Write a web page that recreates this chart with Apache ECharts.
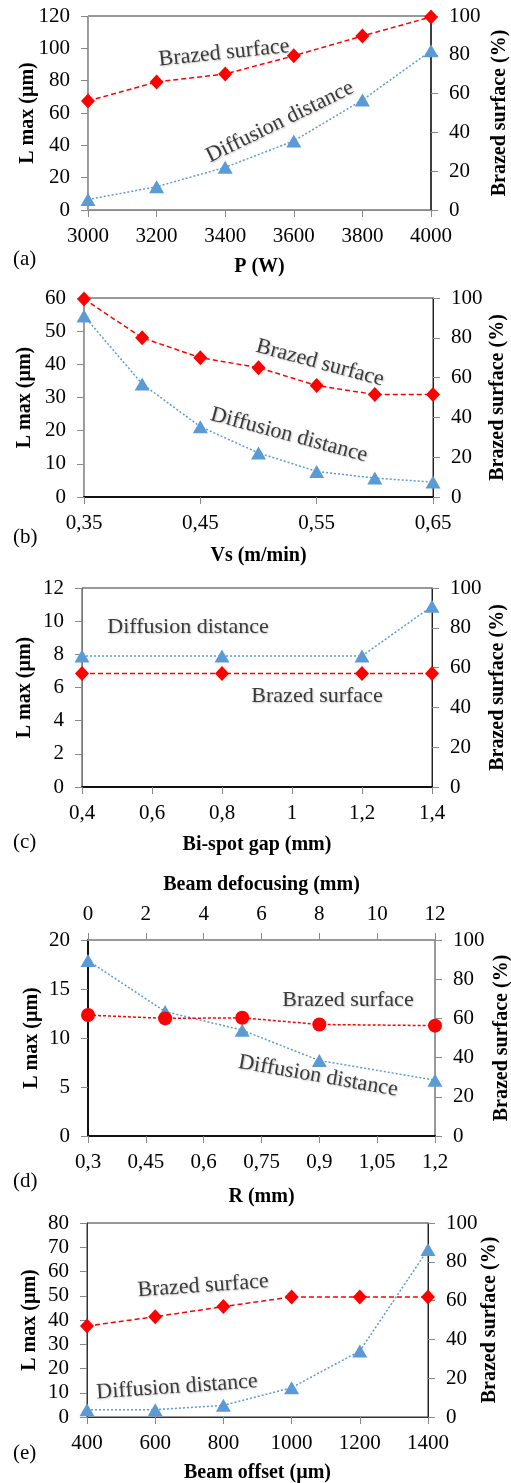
<!DOCTYPE html>
<html><head><meta charset="utf-8">
<script src="https://cdn.jsdelivr.net/npm/echarts@6/dist/echarts.min.js"></script>
<style>html,body{margin:0;padding:0;background:#fff}#c{width:511px;height:1483px}</style>
</head><body><div id="c"></div>
<script>
// ---- data ----
const aPower = [3000, 3200, 3400, 3600, 3800, 4000];
const aDiffusion = [6.5, 14.4, 26.4, 42.7, 68, 98.5];
const aBrazed = [56.2, 66, 70.1, 79.5, 89.7, 99.5];

const bSpeed = [0.35, 0.40, 0.45, 0.50, 0.55, 0.60, 0.65];
const bDiffusion = [54.6, 34.1, 21.2, 13.3, 7.7, 5.7, 4.5];
const bBrazed = [99.5, 80, 70, 65, 56, 51.5, 51.5];
const bSpeedTicks = [0.35, 0.45, 0.55, 0.65];

const cGap = [0.4, 0.8, 1.2, 1.4];
const cDiffusion = [7.9, 7.9, 7.9, 10.9];
const cBrazed = [57, 57, 57, 57];

const dRadius = [0.3, 0.5, 0.7, 0.9, 1.2];
const dDiffusion = [17.9, 12.7, 10.8, 7.7, 5.7];
const dBrazed = [61.7, 60, 60.3, 56.9, 56.3];

const eOffset = [400, 600, 800, 1000, 1200, 1400];
const eDiffusion = [3.0, 3.0, 4.8, 12.1, 27.2, 69.1];
const eBrazed = [46.9, 51.7, 56.9, 61.9, 61.9, 61.9];

// ---- rendering ----
const FONT = '"Liberation Serif", "Times New Roman", serif';
const RED = '#ff0000', BLUE = '#5b9bd5';
const comma = v => String(+(+v).toFixed(2)).replace('.', ',');

const panels = [
  {grid:{left:88, top:16, width:343, height:194},
   x:{min:3000, max:4000, interval:200, name:'P (W)', gap:47, fmt:null},
   yl:{max:120, interval:20, gap:50}, yr:{gap:59},
   lines:{left:'#a0a0a0', bottom:'#888', lw:1, bw:1},
   xs:aPower, diff:aDiffusion, braz:aBrazed, bsym:'diamond', tag:'(a)', tagY:260},
  {grid:{left:84, top:298, width:349, height:199},
   x:{min:0.35, max:0.65, custom:bSpeedTicks, name:'Vs (m/min)', gap:49, fmt:comma},
   yl:{max:60, interval:10, gap:49}, yr:{gap:55},
   lines:{left:'#a0a0a0', bottom:'#111', lw:1, bw:2},
   xs:bSpeed, diff:bDiffusion, braz:bBrazed, bsym:'diamond', tag:'(b)', tagY:538},
  {grid:{left:82, top:588, width:350, height:199},
   x:{min:0.4, max:1.4, interval:0.2, name:'Bi-spot gap (mm)', gap:48, fmt:comma},
   yl:{max:12, interval:2, gap:47}, yr:{gap:56},
   lines:{left:'#777', bottom:'#111', lw:1, bw:2},
   xs:cGap, diff:cDiffusion, braz:cBrazed, bsym:'diamond', tag:'(c)', tagY:843},
  {grid:{left:88, top:940, width:347, height:196},
   x:{min:0.3, max:1.2, interval:0.15, name:'R (mm)', gap:51, fmt:comma},
   top:{min:0, max:12, interval:2, name:'Beam defocusing (mm)', gap:45},
   yl:{max:20, interval:5, gap:46}, yr:{gap:57},
   lines:{left:'#111', bottom:'#111', lw:2, bw:2},
   xs:dRadius, diff:dDiffusion, braz:dBrazed, bsym:'circle', tag:'(d)', tagY:1182},
  {grid:{left:87, top:1223, width:341, height:194},
   x:{min:400, max:1400, interval:200, name:'Beam offset (µm)', gap:46, fmt:null},
   yl:{max:80, interval:10, gap:47}, yr:{gap:52},
   lines:{left:'#333', bottom:'#333', lw:1, bw:1},
   xs:eOffset, diff:eDiffusion, braz:eBrazed, bsym:'diamond', tag:'(e)', tagY:1454}
];

const grid = [], xAxis = [], yAxis = [], series = [], graphic = [];
const labelBase = {color:'#000', fontFamily:FONT, fontSize:21};
const nameBase = {color:'#000', fontFamily:FONT, fontSize:20, fontWeight:'bold'};
const tick = color => ({show:true, inside:false, length:7, lineStyle:{color:color||'#888'}});

panels.forEach((p, gi) => {
  grid.push(Object.assign({show:true, borderColor:'#333', borderWidth:1, containLabel:false, outerBoundsMode:'none'}, p.grid));
  const xi = xAxis.length;
  const xa = {
    type:'value', gridIndex:gi, position:'bottom', min:p.x.min, max:p.x.max,
    name:p.x.name, nameLocation:'middle', nameGap:p.x.gap, nameMoveOverlap:false, nameTextStyle:nameBase,
    axisLine:{show:true, onZero:false, lineStyle:{color:p.lines.bottom, width:p.lines.bw}},
    axisTick:tick('#888'), splitLine:{show:false},
    axisLabel:Object.assign({margin:16, formatter:p.x.fmt || (v => String(v))}, labelBase)
  };
  if (p.x.interval) xa.interval = p.x.interval;
  if (p.x.custom) {
    xa.axisLabel.customValues = p.x.custom;
    xa.axisTick.customValues = p.x.custom;
  }
  xAxis.push(xa);
  if (p.top) {
    xAxis.push({
      type:'value', gridIndex:gi, position:'top', min:p.top.min, max:p.top.max, interval:p.top.interval,
      name:p.top.name, nameLocation:'middle', nameGap:p.top.gap, nameMoveOverlap:false, nameTextStyle:nameBase,
      axisLine:{show:true, onZero:false, lineStyle:{color:'#999', width:1}},
      axisTick:tick('#888'), splitLine:{show:false},
      axisLabel:Object.assign({margin:15}, labelBase)
    });
  }
  const yl = yAxis.length;
  yAxis.push({
    type:'value', gridIndex:gi, position:'left', min:0, max:p.yl.max, interval:p.yl.interval,
    name:'L max (µm)', nameLocation:'middle', nameGap:p.yl.gap, nameMoveOverlap:false, nameTextStyle:nameBase,
    axisLine:{show:true, onZero:false, lineStyle:{color:p.lines.left, width:p.lines.lw}},
    axisTick:tick('#888'), splitLine:{show:false},
    axisLabel:Object.assign({margin:18}, labelBase)
  });
  const yr = yAxis.length;
  yAxis.push({
    type:'value', gridIndex:gi, position:'right', min:0, max:100, interval:20,
    name:'Brazed surface (%)', nameLocation:'middle', nameGap:p.yr.gap, nameRotate:90, nameMoveOverlap:false, nameTextStyle:nameBase,
    axisLine:{show:true, onZero:false, lineStyle:{color:gi===3?'#999':'#222', width:gi===0?1.5:1}},
    axisTick:tick('#888'), splitLine:{show:false},
    axisLabel:Object.assign({margin:18}, labelBase)
  });
  series.push({
    type:'line', xAxisIndex:xi, yAxisIndex:yl, data:p.xs.map((x, i) => [x, p.diff[i]]),
    symbol:'triangle', symbolSize:[15, 13], itemStyle:{color:BLUE},
    lineStyle:{color:BLUE, width:1.5, type:[2, 2]}, z:3
  });
  series.push({
    type:'line', xAxisIndex:xi, yAxisIndex:yr, data:p.xs.map((x, i) => [x, p.braz[i]]),
    symbol:p.bsym, symbolSize:p.bsym === 'circle' ? 14 : [14, 15], itemStyle:{color:RED},
    lineStyle:{color:RED, width:1.5, type:gi===3?[3,2]:[5, 3]}, z:4
  });
  graphic.push({type:'text', left:13, top:p.tagY - 11, style:{text:p.tag, font:'21px ' + FONT, fill:'#000'}});
});

const notes = [
  ['Brazed surface', 224, 53, 6],
  ['Diffusion distance', 280, 122, 26],
  ['Brazed surface', 320, 363, -15],
  ['Diffusion distance', 289, 435, -15],
  ['Diffusion distance', 188, 627, 0],
  ['Brazed surface', 317, 696, 0],
  ['Brazed surface', 348, 1000, 0],
  ['Diffusion distance', 318, 1076, -10],
  ['Brazed surface', 203, 1286, 4],
  ['Diffusion distance', 177, 1387, 4]
];
notes.forEach(([t, x, y, deg]) => {
  graphic.push({
    type:'text', x:x, y:y, rotation:deg * Math.PI / 180, z:10,
    style:{text:t, font:'22px ' + FONT, fill:'#3a3a3a', align:'center', verticalAlign:'middle',
      textShadowColor:'rgba(0,0,0,0.25)', textShadowBlur:2, textShadowOffsetX:1, textShadowOffsetY:1}
  });
});

const chart = echarts.init(document.getElementById('c'), null, {renderer:'canvas'});
chart.setOption({backgroundColor:'#fff', animation:false, grid, xAxis, yAxis, series, graphic});
</script></body></html>
